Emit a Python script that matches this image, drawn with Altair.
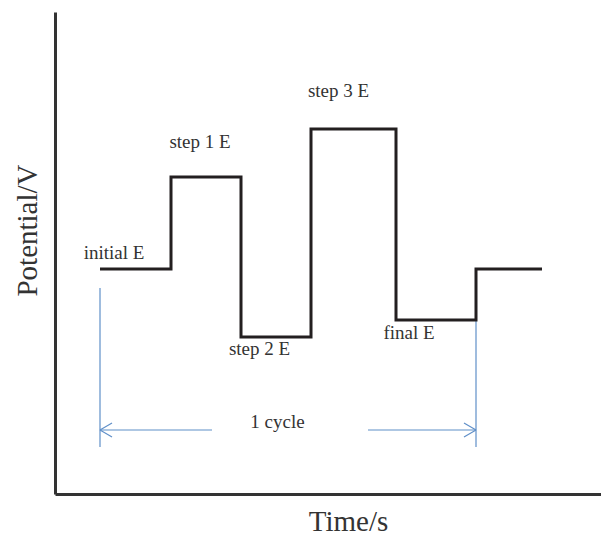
import altair as alt
import pandas as pd

# Step waveform (time, potential) in arbitrary chart units
wave_t = [45, 116, 186, 256, 341, 421, 487]
wave_v = [225, 317, 157, 365, 174, 225, 225]

# Labels
label_text = ["initial E", "step 1 E", "step 2 E", "step 3 E", "final E", "1 cycle"]
label_t = [59, 145, 204.5, 283.5, 354, 222.5]
label_v = [235, 346, 139, 397, 155, 66]

# Blue cycle markers: segments (t, v, t2, v2)
seg_t = [45, 421, 45, 313, 45, 45, 421, 421]
seg_v = [206, 174, 64, 64, 64, 64, 64, 64]
seg_t2 = [45, 421, 157, 421, 57, 57, 409, 409]
seg_v2 = [47, 47, 64, 64, 71, 57, 71, 57]

T_MAX = 546
V_MAX = 482

wave = pd.DataFrame({"t": wave_t, "v": wave_v})
labels = pd.DataFrame({"t": label_t, "v": label_v, "text": label_text})
segs = pd.DataFrame({"t": seg_t, "v": seg_v, "t2": seg_t2, "v2": seg_v2})

xs = alt.Scale(domain=[0, T_MAX], nice=False, zero=False)
ys = alt.Scale(domain=[0, V_MAX], nice=False, zero=False)

x_axis = alt.Axis(
    title="Time/s", labels=False, ticks=False, grid=False,
    domainColor="#333333", domainWidth=3,
    titleFont="Liberation Serif", titleFontSize=29, titleFontWeight="normal",
    titleColor="#333333", titleBaseline="alphabetic", titlePadding=36, titleX=293,
)
y_axis = alt.Axis(
    title="Potential/V", labels=False, ticks=False, grid=False,
    domainColor="#333333", domainWidth=3,
    titleFont="Liberation Serif", titleFontSize=29, titleFontWeight="normal",
    titleColor="#333333", titlePadding=13, titleY=218,
)

line = alt.Chart(wave).mark_line(
    interpolate="step-after", color="#231f20", strokeWidth=3, strokeJoin="miter"
).encode(
    x=alt.X("t:Q", scale=xs, axis=x_axis),
    y=alt.Y("v:Q", scale=ys, axis=y_axis),
)

rules = alt.Chart(segs).mark_rule(color="#5f8fc8", strokeWidth=1.2).encode(
    x=alt.X("t:Q", scale=xs), y=alt.Y("v:Q", scale=ys),
    x2="t2:Q", y2="v2:Q",
)

text = alt.Chart(labels).mark_text(
    font="Liberation Serif", fontSize=19, color="#333333",
    align="center", baseline="alphabetic",
).encode(
    x=alt.X("t:Q", scale=xs), y=alt.Y("v:Q", scale=ys), text="text:N",
)

chart = alt.layer(rules, line, text).properties(
    width=T_MAX, height=V_MAX,
    autosize=alt.AutoSizeParams(type="none"),
    padding={"left": 47, "top": 4, "right": 0, "bottom": 45},
).configure_view(stroke=None)

chart.save("out.html", embed_options={"renderer": "svg", "actions": False})
